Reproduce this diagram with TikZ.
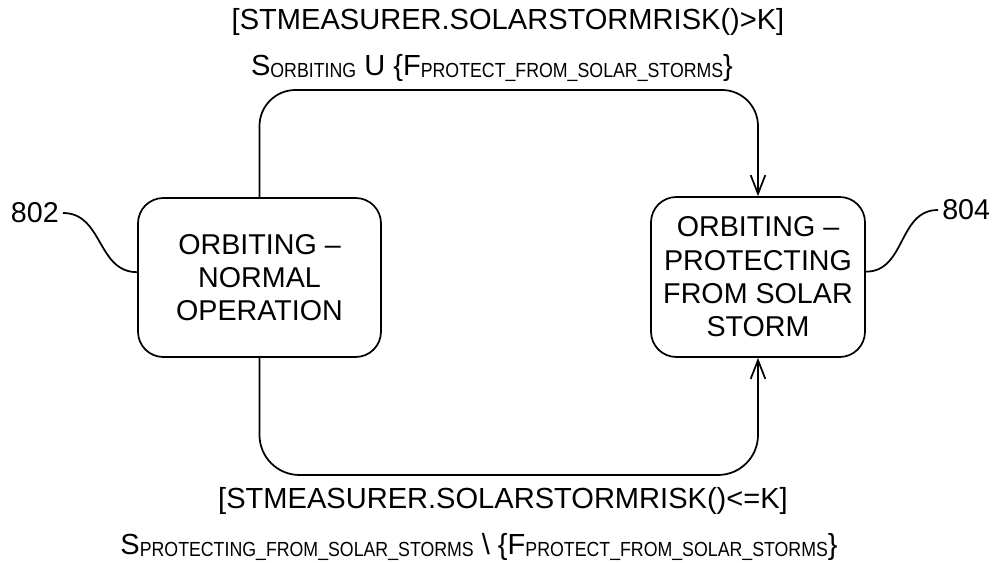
\documentclass[tikz,border=0pt]{standalone}
\usepackage{fontspec}
\setmainfont{Liberation Sans}
\usepackage{graphicx}
\usetikzlibrary{arrows.meta}
% small, narrowed subscript used in the set expressions
\newcommand{\lowsub}[1]{\raisebox{-1.5pt}{\scalebox{0.87}[1]{\fontsize{15.3}{16}\selectfont #1}}}
\begin{document}
\begin{tikzpicture}[x=0.75pt,y=-0.75pt,
  every node/.style={font=\fontsize{21.5}{25}\selectfont},
  label text/.style={font=\fontsize{21.8}{25}\selectfont, anchor=base},
  state/.style={draw, line width=1.3pt, rounded corners=19pt, align=center, inner sep=0pt},
  link/.style={line width=1.3pt},
  leader/.style={line width=1.3pt},
  tip/.style={-{Straight Barb[length=14pt,width=11pt,line width=1.3pt]}}
]
\fill[white] (0,0) rectangle (996,563);
\useasboundingbox (0,0) rectangle (996,563);

% states
\node[state, minimum width=182.25pt, minimum height=119.25pt] (normal) at (259.5,277.5)
  {ORBITING \textendash\\NORMAL\\OPERATION};
\node[state, minimum width=160.5pt, minimum height=120pt] (protect) at (758,277)
  {ORBITING \textendash\\PROTECTING\\FROM SOLAR\\STORM};

% rails of the two transitions
\coordinate (topRail) at (0,90);
\coordinate (botRail) at (0,475);

\draw[link, rounded corners=27pt, tip] (normal.north) -- (normal.north |- topRail)
  -- (protect.north |- topRail) -- (protect.north);
\draw[link, rounded corners=30pt, tip] (normal.south) -- (normal.south |- botRail)
  -- (protect.south |- botRail) -- (protect.south);

% reference numerals
\node[anchor=east, inner sep=3pt] (n802) at (63,213) {802};
\draw[leader] (n802.east) .. controls +(40,0) and +(-40,0) .. ([yshift=4pt]normal.west);
\node[anchor=west, inner sep=3pt] (n804) at (938,210) {804};
\draw[leader] ([yshift=4pt]protect.east) .. controls +(40,0) and +(-40,0) .. (n804.west);

% transition labels
\node[label text] (guardUp) at (508,30) {[STMEASURER.SOLARSTORMRISK()>K]};
\node[label text] (effectUp) at (492,76)
  {S\lowsub{ORBITING} U \{F\lowsub{PROTECT\_FROM\_SOLAR\_STORMS}\}};
\node[label text] (guardDown) at (503,508) {[STMEASURER.SOLARSTORMRISK()<=K]};
\node[label text] (effectDown) at (479,554)
  {S\lowsub{PROTECTING\_FROM\_SOLAR\_STORMS} \textbackslash{} \{F\lowsub{PROTECT\_FROM\_SOLAR\_STORMS}\}};
\end{tikzpicture}
\end{document}
